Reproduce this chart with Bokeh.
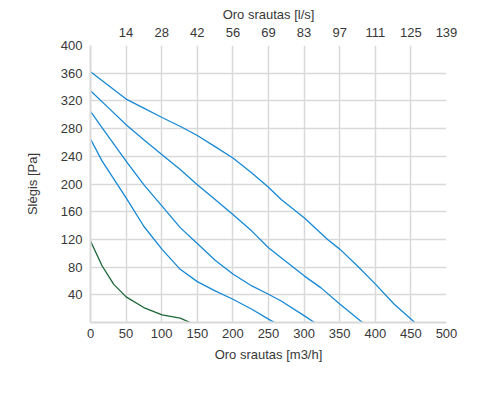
from bokeh.plotting import figure
from bokeh.models import LinearAxis, FixedTicker, Range1d
from bokeh.embed import file_html
from bokeh.resources import INLINE

# data (flow m3/h, pressure Pa)
c1_x = [0, 25.7, 50, 74.8, 100.5, 128.5, 150, 175, 200, 226.6, 250, 267.8, 300.5, 333, 350.5, 375, 400.5, 426.6, 455.6]
c1_y = [362, 342, 322.6, 309.6, 296, 282, 270, 254, 237.6, 216, 195.4, 177.6, 151, 120, 105.6, 81.6, 55, 26.4, 0]
c2_x = [0, 25.7, 50, 74.8, 100.5, 126, 150, 175, 200, 226.6, 250, 267.8, 300.5, 323.8, 350.5, 382]
c2_y = [334.6, 309.6, 285.6, 264, 242.4, 221, 199, 177.6, 156, 132, 108, 93.6, 67, 50, 26.4, 0]
c3_x = [0, 16.4, 50, 74.8, 100.5, 126, 150, 175, 200, 226.6, 250, 267.8, 300.5, 314.5]
c3_y = [305, 281, 233, 199, 168, 137, 114, 90, 70, 52.8, 40.8, 31, 9.6, 0]
c4_x = [0, 16.4, 50, 74.8, 100.5, 126, 150, 175, 200, 226.6, 250, 258.4]
c4_y = [265, 233, 180, 139, 105.6, 76.8, 59, 45.6, 33.6, 19.2, 4.8, 0]
g_x = [0, 16.4, 32.7, 50, 74.8, 100.5, 126, 140]
g_y = [117.6, 81.6, 55, 37, 21.6, 11, 6.2, 0]

x_ticks = [0, 50, 100, 150, 200, 250, 300, 350, 400, 450, 500]
y_ticks = [0, 40, 80, 120, 160, 200, 240, 280, 320, 360, 400]
top_ticks = [50, 100, 150, 200, 250, 300, 350, 400, 450, 500]
top_labels = ["14", "28", "42", "56", "69", "83", "97", "111", "125", "139"]
top_title = "Oro srautas [l/s]"

FONT = "Liberation Sans"
TXT = "#383838"
GRID = "#d9d9d9"

p = figure(width=488, height=390, output_backend="svg", toolbar_location=None,
           x_range=Range1d(0, 500), y_range=Range1d(0, 400),
           min_border_left=90, min_border_right=42, min_border_top=45, min_border_bottom=68)
p.outline_line_color = None
p.background_fill_color = "white"

# top axis title as the figure title, centred over the plot area
p.title.text = top_title
p.title.align = "center"
p.title.text_font = FONT
p.title.text_font_size = "13px"
p.title.text_font_style = "normal"
p.title.text_color = TXT
p.title.standoff = 6
p.title.offset = 0

bottom = p.below[0]
left = p.left[0]
bottom.ticker = FixedTicker(ticks=x_ticks)
left.ticker = FixedTicker(ticks=y_ticks)
left.major_label_overrides = {0: ""}
bottom.axis_label = "Oro srautas [m3/h]"
left.axis_label = "Slėgis [Pa]"

top = LinearAxis(ticker=FixedTicker(ticks=top_ticks),
                 major_label_overrides={t: l for t, l in zip(top_ticks, top_labels)})
p.add_layout(top, "above")

for ax in [bottom, left, top]:
    ax.axis_line_color = GRID
    ax.axis_line_width = 2
    ax.major_tick_line_color = None
    ax.minor_tick_line_color = None
    ax.major_tick_out = 0
    ax.major_tick_in = 0
    ax.major_label_text_font = FONT
    ax.major_label_text_font_size = "13px"
    ax.major_label_text_color = TXT
    ax.axis_label_text_font = FONT
    ax.axis_label_text_font_size = "13px"
    ax.axis_label_text_color = TXT
    ax.axis_label_text_font_style = "normal"
top.axis_line_color = None
bottom.major_label_standoff = 6
bottom.axis_label_standoff = 6
left.major_label_standoff = 8
left.axis_label_standoff = 18
top.major_label_standoff = 9

p.xgrid.ticker = FixedTicker(ticks=x_ticks)
p.ygrid.ticker = FixedTicker(ticks=y_ticks)
p.xgrid.grid_line_color = GRID
p.ygrid.grid_line_color = GRID
p.xgrid.grid_line_width = 1.5
p.ygrid.grid_line_width = 1.5

BLUE = "#1789d4"
for xs, ys in [(c1_x, c1_y), (c2_x, c2_y), (c3_x, c3_y), (c4_x, c4_y)]:
    p.line(xs, ys, line_color=BLUE, line_width=1.3)
p.line(g_x, g_y, line_color="#1b6636", line_width=1.3)

open("out.html", "w").write(file_html(p, INLINE))
